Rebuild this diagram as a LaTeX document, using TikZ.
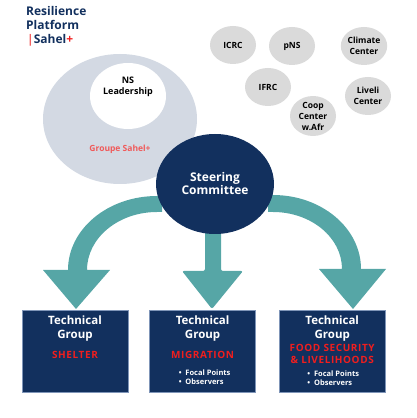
\documentclass[tikz,border=0pt]{standalone}
\usepackage{fontspec}
\setmainfont{Open Sans}
\usetikzlibrary{positioning,shapes.geometric}
\definecolor{navy}{HTML}{12305E}
\definecolor{teal}{HTML}{56A6A6}
\definecolor{groupgrey}{HTML}{D3D9E3}
\definecolor{bubblegrey}{HTML}{DADADA}
\definecolor{salmon}{HTML}{F05A5A}
\definecolor{alert}{HTML}{F01E1E}
\definecolor{boxline}{HTML}{7F95B8}

\begin{document}
\begin{tikzpicture}[x=1pt,y=1pt,
  every node/.style={font=\bfseries, inner sep=0pt},
  bubble/.style={ellipse, fill=bubblegrey, minimum width=46, minimum height=38, align=center, font=\bfseries\fontsize{8.5}{11}\selectfont},
  tgbox/.style={draw=boxline, line width=.6pt, fill=navy, minimum width=106, minimum height=82},
  tgtitle/.style={text=white, align=center, font=\bfseries\fontsize{11.5}{14}\selectfont},
  tgtheme/.style={text=alert, align=center, font=\bfseries\fontsize{10}{12}\selectfont\addfontfeatures{LetterSpace=6}},
  tglist/.style={text=white, align=left, font=\bfseries\fontsize{7.5}{9}\selectfont}]
  \useasboundingbox (0,0) rectangle (417,418);

  % title
  \node[anchor=north west, align=left, text=navy, font=\bfseries\fontsize{12}{14}\selectfont] (title) at (26,412)
    {Resilience\\Platform\\{\color{salmon}\kern1pt|}Sahel{\color{alert}+}};

  % groupe sahel+
  \node[ellipse, fill=groupgrey, minimum width=154, minimum height=130] (groupe) at (120,299) {};
  \node[ellipse, fill=white, minimum width=76, minimum height=66] (ns) at (128,322) {};
  \node[align=center, font=\bfseries\fontsize{9}{11}\selectfont] (ns text) at (128,331) {NS\\Leadership};
  \node[text=salmon, font=\bfseries\fontsize{8.5}{10}\selectfont] (groupe text) at (120,269) {Groupe Sahel+};

  % partners
  \node[bubble] (icrc) at (233,373) {ICRC};
  \node[bubble] (pns) at (292,372) {pNS};
  \node[bubble] (climate) at (364,372) {Climate\\Center};
  \node[bubble] (ifrc) at (268,331) {IFRC};
  \node[bubble] (liveli) at (368,322) {Liveli\\Center};
  \node[bubble] (coop) at (313,302) {Coop\\Center\\w.Afr};

  % arrows
  \fill[teal] (162,222) -- (157,222) arc[start angle=90, end angle=180, x radius=89, y radius=74]
    -- (43,148) -- (76,109) -- (110,148) -- (87,148)
    arc[start angle=180, end angle=90, x radius=70, y radius=58] -- (162,206) -- cycle;
  \fill[teal] (268,223) -- (273,223) arc[start angle=90, end angle=0, x radius=88, y radius=74]
    -- (386,149) -- (353,109) -- (319,149) -- (342,149)
    arc[start angle=0, end angle=90, x radius=69, y radius=57] -- (268,206) -- cycle;
  \fill[teal, rounded corners=2pt] (205,200) -- (205,147) -- (182,147) -- (212,109)
    -- (243,147) -- (221,147) -- (221,200) -- cycle;

  % steering committee
  \node[ellipse, fill=navy, minimum width=118, minimum height=100, text=white, align=center,
    font=\bfseries\fontsize{12}{13}\selectfont] (steer) at (215,234) {Steering\\Committee};

  % technical groups
  \node[tgbox] (shelter) at (75,67) {};
  \node[tgbox, right=21pt of shelter] (migration) {};
  \node[tgbox, right=23pt of migration] (food) {};

  \node[tgtitle] (shelter title) at ([yshift=-19pt]shelter.north) {Technical\\Group};
  \node[tgtitle] (migration title) at ([yshift=-19pt]migration.north) {Technical\\Group};
  \node[tgtitle] (food title) at ([yshift=-19pt]food.north) {Technical\\Group};

  \node[tgtheme] (shelter theme) at ([yshift=-45pt]shelter.north) {SHELTER};
  \node[tgtheme] (migration theme) at ([yshift=-45pt]migration.north) {MIGRATION};
  \node[tgtheme] (food theme) at ([yshift=-44pt]food.north) {FOOD SECURITY\\\& LIVELIHOODS};

  \node[tglist] (migration list) at ([xshift=2pt, yshift=-67.5pt]migration.north)
    {\textbullet\ \ Focal Points\\\textbullet\ \ Observers};
  \node[tglist] (food list) at ([xshift=1pt, yshift=-68.5pt]food.north)
    {\textbullet\ \ Focal Points\\\textbullet\ \ Observers};
\end{tikzpicture}
\end{document}
